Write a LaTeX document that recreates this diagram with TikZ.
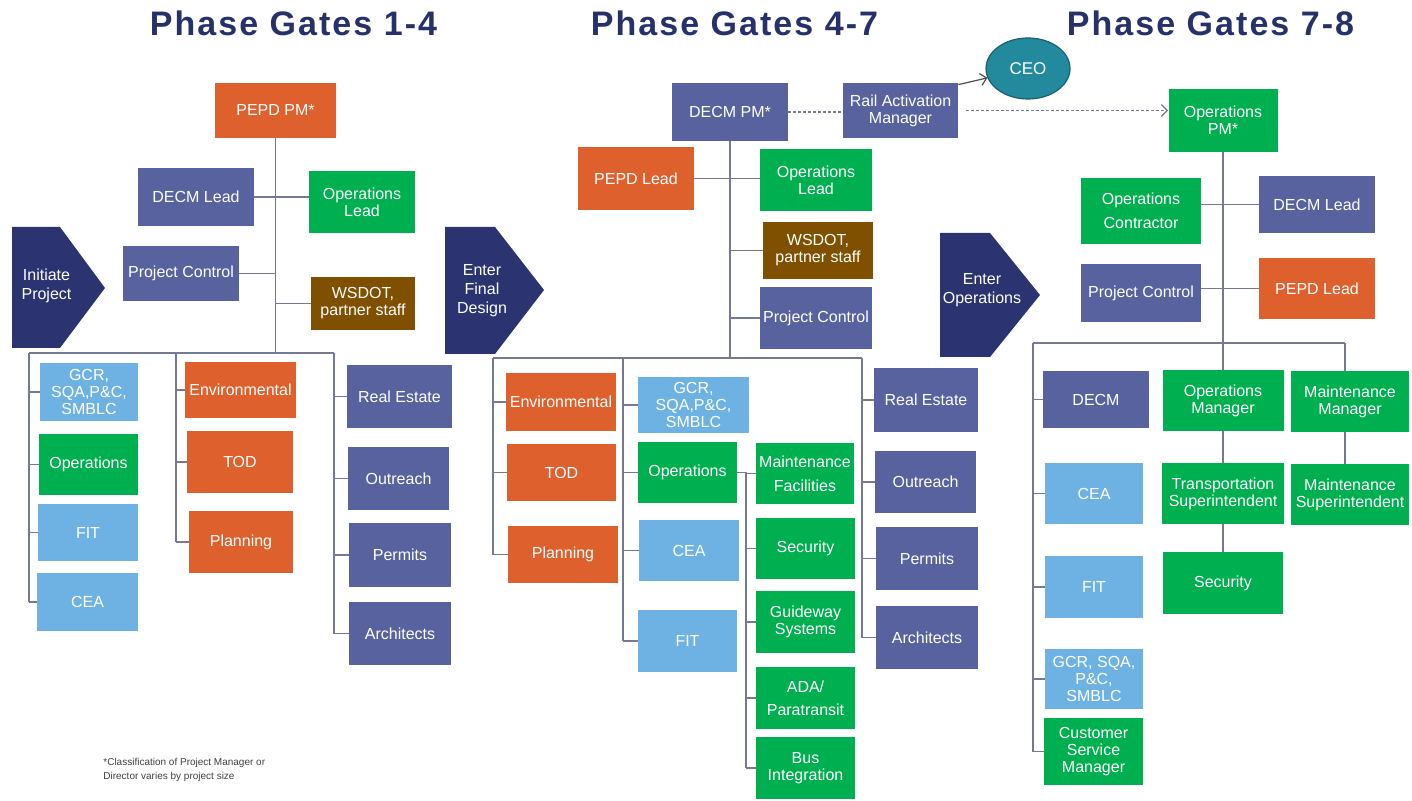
\documentclass[tikz,border=0pt]{standalone}
\usepackage{fontspec}
\setmainfont{Liberation Sans}
\newfontfamily\titlefont[LetterSpace=6]{Liberation Sans}
\usetikzlibrary{arrows.meta,shapes.geometric}
\definecolor{orngc}{RGB}{221,96,45}
\definecolor{slatec}{RGB}{88,98,158}
\definecolor{grnc}{RGB}{0,176,80}
\definecolor{skyc}{RGB}{110,178,228}
\definecolor{brwnc}{RGB}{127,80,0}
\definecolor{navyc}{RGB}{43,52,112}
\definecolor{titlec}{RGB}{38,48,105}
\definecolor{ceoc}{RGB}{35,137,156}
\definecolor{wirec}{RGB}{118,122,145}
\tikzset{
  box/.style={rectangle,inner sep=1pt,text=white,align=center,font=\fontsize{8}{8.5}\selectfont},
  sz/.style 2 args={minimum width=#1*0.5pt,minimum height=#2*0.5pt},
  orgbox/.style={box,fill=orngc},
  slatebox/.style={box,fill=slatec},
  greenbox/.style={box,fill=grnc},
  skybox/.style={box,fill=skyc},
  brownbox/.style={box,fill=brwnc},
  wire/.style={draw=wirec,line width=0.6pt},
  gatetxt/.style={text=white,align=center,font=\fontsize{8}{9.5}\selectfont},
  title/.style={anchor=base,text=titlec,font=\titlefont\fontsize{17}{20}\selectfont\bfseries}
}
\begin{document}
\begin{tikzpicture}[x=0.5pt,y=-0.5pt]
\useasboundingbox (0,0) rectangle (1412,801);
% titles
\node[title] (t1) at (293.5,36) {Phase Gates 1-4};
\node[title] (t2) at (734.5,36) {Phase Gates 4-7};
\node[title] (t3) at (1210.5,36) {Phase Gates 7-8};
% gates
\fill[navyc] (12,227) -- (60,227) -- (105,288) -- (60,348) -- (12,348) -- cycle;
\node[gatetxt] (gateA) at (46.5,286) {Initiate\\Project};
\fill[navyc] (445,227) -- (495,227) -- (544,290) -- (495,354) -- (445,354) -- cycle;
\node[gatetxt] (gateB) at (482,291) {Enter\\Final\\Design};
\fill[navyc] (940,233) -- (990,233) -- (1040,295) -- (990,357) -- (940,357) -- cycle;
\node[gatetxt] (gateC) at (982,290) {Enter\\Operations};

% phase gates 1-4
\node[orgbox,sz={121}{55}] (pepdpmA) at (275.5,110.5) {PEPD PM*};
\node[slatebox,sz={116}{58}] (decmlA) at (196,197) {DECM Lead};
\node[greenbox,sz={106}{62}] (opslA) at (362,202) {Operations\\Lead};
\node[slatebox,sz={116}{55}] (pcA) at (181,273.5) {Project Control};
\node[brownbox,sz={104}{53}] (wsA) at (363,303.5) {WSDOT,\\partner staff};
\node[skybox,sz={98}{58}] (gcrA) at (89,392) {GCR,\\SQA,P\&C,\\SMBLC};
\node[greenbox,sz={99}{61}] (opsA) at (88.5,464.5) {Operations};
\node[skybox,sz={100}{57}] (fitA) at (88,532.5) {FIT};
\node[skybox,sz={101}{58}] (ceaA) at (87.5,602) {CEA};
\node[orgbox,sz={111}{56}] (envA) at (240.5,390) {Environmental};
\node[orgbox,sz={106}{62}] (todA) at (240,462) {TOD};
\node[orgbox,sz={104}{62}] (planA) at (241,542) {Planning};
\node[slatebox,sz={105}{63}] (reA) at (399.5,396.5) {Real Estate};
\node[slatebox,sz={101}{63}] (outA) at (398.5,478.5) {Outreach};
\node[slatebox,sz={102}{64}] (permA) at (400,555) {Permits};
\node[slatebox,sz={102}{63}] (archA) at (400,633.5) {Architects};
\coordinate (barAl) at (29,353);
\coordinate (barAm) at (176,353);
\coordinate (barAr) at (334,353);
\draw[wire] (pepdpmA.south) -- (pepdpmA.south |- barAl);
\draw[wire] (decmlA.east) -- (decmlA.east -| opslA.west);
\draw[wire] (pcA.east) -- (pcA.east -| pepdpmA.south);
\draw[wire] (wsA.west) -- (wsA.west -| pepdpmA.south);
\draw[wire] (barAl) -- (barAr);
\draw[wire] (barAl) -- (barAl |- ceaA.west);
\draw[wire] (barAm) -- (barAm |- planA.west);
\draw[wire] (barAr) -- (barAr |- archA.west);
\foreach \n in {gcrA,opsA,fitA,ceaA} \draw[wire] (\n.west) -- (\n.west -| barAl);
\foreach \n in {envA,todA,planA} \draw[wire] (\n.west) -- (\n.west -| barAm);
\foreach \n in {reA,outA,permA,archA} \draw[wire] (\n.west) -- (\n.west -| barAr);

% phase gates 4-7
\node[slatebox,sz={116}{58}] (decmpmB) at (730,112) {DECM PM*};
\node[slatebox,sz={115}{55}] (railB) at (900.5,110.5) {Rail Activation\\Manager};
\node[ellipse,fill=ceoc,draw=ceoc!70!black,line width=0.6pt,text=white,
  minimum width=42pt,minimum height=30.5pt,inner sep=0pt,font=\fontsize{8.5}{9}\selectfont] (ceo) at (1028,68.5) {CEO};
\node[orgbox,sz={116}{63}] (pepdlB) at (636,178.5) {PEPD Lead};
\node[greenbox,sz={112}{62}] (opslB) at (816,180) {Operations\\Lead};
\node[brownbox,sz={110}{57}] (wsB) at (818,250.5) {WSDOT,\\partner staff};
\node[slatebox,sz={112}{62}] (pcB) at (816,318) {Project Control};
\node[orgbox,sz={110}{58}] (envB) at (561,402) {Environmental};
\node[orgbox,sz={109}{57}] (todB) at (561.5,472.5) {TOD};
\node[orgbox,sz={110}{57}] (planB) at (563,554.5) {Planning};
\node[skybox,sz={111}{56}] (gcrB) at (693.5,405) {GCR,\\SQA,P\&C,\\SMBLC};
\node[greenbox,sz={99}{61}] (opsB) at (687.5,472.5) {Operations};
\node[skybox,sz={100}{61}] (ceaB) at (689,550.5) {CEA};
\node[skybox,sz={99}{62}] (fitB) at (687.5,641) {FIT};
\node[greenbox,sz={98}{61}] (mfB) at (805,473.5) {Maintenance\\[3.5pt]Facilities};
\node[greenbox,sz={99}{61}] (secB) at (805.5,548.5) {Security};
\node[greenbox,sz={99}{62}] (gsB) at (805.5,622) {Guideway\\Systems};
\node[greenbox,sz={99}{62}] (adaB) at (805.5,698) {ADA/\\[3pt]Paratransit};
\node[greenbox,sz={99}{62}] (busB) at (805.5,768) {Bus\\Integration};
\node[slatebox,sz={104}{64}] (reB) at (926,400) {Real Estate};
\node[slatebox,sz={101}{62}] (outB) at (925.5,482) {Outreach};
\node[slatebox,sz={102}{63}] (permB) at (927,558.5) {Permits};
\node[slatebox,sz={102}{63}] (archB) at (927,637.5) {Architects};
\coordinate (barBl) at (493,358);
\coordinate (barBm) at (623,358);
\coordinate (barBr) at (862,358);
\coordinate (subB) at (746,474);
\draw[wire] (decmpmB.south) -- (decmpmB.south |- barBl);
\draw[wire] (pepdlB.east) -- (pepdlB.east -| opslB.west);
\draw[wire] (wsB.west) -- (wsB.west -| decmpmB.south);
\draw[wire] (pcB.west) -- (pcB.west -| decmpmB.south);
\draw[wire] (barBl) -- (barBr);
\draw[wire] (barBl) -- (barBl |- planB.west);
\draw[wire] (barBm) -- (barBm |- fitB.west);
\draw[wire] (barBr) -- (barBr |- archB.west);
\foreach \n in {envB,todB,planB} \draw[wire] (\n.west) -- (\n.west -| barBl);
\foreach \n in {gcrB,opsB,ceaB,fitB} \draw[wire] (\n.west) -- (\n.west -| barBm);
\foreach \n in {reB,outB,permB,archB} \draw[wire] (\n.west) -- (\n.west -| barBr);
\draw[wire] (opsB.east) -- (opsB.east -| subB);
\draw[wire] (opsB.east -| subB) -- (subB |- busB.west);
\foreach \n in {mfB,secB,gsB,adaB,busB} \draw[wire] (\n.west) -- (\n.west -| subB);

% phase gates 7-8
\node[greenbox,sz={109}{63}] (opspmC) at (1223,120.5) {Operations\\PM*};
\node[greenbox,sz={120}{66}] (ocC) at (1141,211) {Operations\\[3.5pt]Contractor};
\node[slatebox,sz={116}{57}] (decmlC) at (1317,204.5) {DECM Lead};
\node[slatebox,sz={120}{58}] (pcC) at (1141,293) {Project Control};
\node[orgbox,sz={116}{61}] (pepdlC) at (1317,288.5) {PEPD Lead};
\node[slatebox,sz={106}{57}] (decmC) at (1096,399.5) {DECM};
\node[skybox,sz={98}{61}] (ceaC) at (1094,493.5) {CEA};
\node[skybox,sz={98}{62}] (fitC) at (1094,587) {FIT};
\node[skybox,sz={98}{60}] (gcrC) at (1094,679) {GCR, SQA,\\P\&C,\\SMBLC};
\node[greenbox,sz={99}{67}] (csmC) at (1093.5,751.5) {Customer\\Service\\Manager};
\node[greenbox,sz={121}{61}] (omC) at (1223,400.5) {Operations\\Manager};
\node[greenbox,sz={118}{61}] (mmC) at (1350,401.5) {Maintenance\\Manager};
\node[greenbox,sz={122}{61}] (tsC) at (1223,493.5) {Transportation\\Superintendent};
\node[greenbox,sz={118}{61}] (msC) at (1350,494.5) {Maintenance\\Superintendent};
\node[greenbox,sz={120}{62}] (secC) at (1223,583) {Security};
\coordinate (barCl) at (1033,343);
\coordinate (barCr) at (1345,343);
\draw[wire] (opspmC.south) -- (omC.north);
\draw[wire] (decmlC.west) -- (decmlC.west -| ocC.east);
\draw[wire] (pepdlC.west) -- (pepdlC.west -| pcC.east);
\draw[wire] (barCl) -- (barCr);
\draw[wire] (barCl) -- (barCl |- csmC.west);
\draw[wire] (barCr) -- (barCr |- mmC.north);
\foreach \n in {decmC,ceaC,fitC,gcrC,csmC} \draw[wire] (\n.west) -- (\n.west -| barCl);
\draw[wire] (omC.south) -- (tsC.north);
\draw[wire] (tsC.south) -- (secC.north);
\draw[wire] (mmC.south -| barCr) -- (msC.north -| barCr);

% dotted reporting lines
\draw[wire,dash pattern=on 1.5pt off 1pt] (decmpmB.east) -- (decmpmB.east -| railB.west);
\draw[wire,dash pattern=on 1.5pt off 1pt,-{Straight Barb[length=3pt]}] ([xshift=4pt]railB.east) -- (railB.east -| opspmC.west);
\draw[wire,draw=black!70,-{Straight Barb[length=3pt]}] ([yshift=-1pt]railB.north east) -- (ceo.193);

% footnote
\node[anchor=north west,align=left,text=black!75,font=\fontsize{5}{7}\selectfont,inner sep=0pt] (note) at (103,758) {*Classification of Project Manager or\\Director varies by project size};
\end{tikzpicture}
\end{document}
